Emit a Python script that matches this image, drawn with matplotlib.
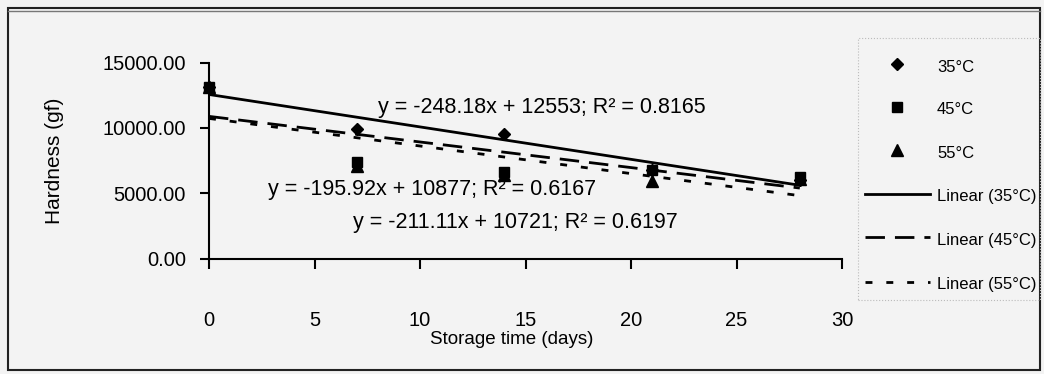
import matplotlib
matplotlib.use("Agg")
import matplotlib.pyplot as plt
from matplotlib.lines import Line2D
from matplotlib.patches import Rectangle
import numpy as np

plt.rcParams['font.family'] = ['Liberation Sans', 'DejaVu Sans']

# ---- data ----
days = [0, 7, 14, 21, 28]
hard_35 = [13100, 9900, 9500, 6800, 6000]
hard_45 = [13100, 7400, 6600, 6800, 6200]
hard_55 = [13100, 7100, 6400, 5900, 6100]
series_labels = ["35°C", "45°C", "55°C"]
# trendline coefficients (slope, intercept, R^2)
fit_35 = (-248.18, 12553, 0.8165)
fit_45 = (-195.92, 10877, 0.6167)
fit_55 = (-211.11, 10721, 0.6197)
xticks = [0, 5, 10, 15, 20, 25, 30]
yticks = [0, 5000, 10000, 15000]

W, H = 1044, 374
fig = plt.figure(figsize=(W / 100, H / 100), dpi=100)
fig.patch.set_facecolor('#f3f3f3')

def fx(px):
    return px / W

def fy(py):
    return 1 - py / H

# outer frame
fig.patches.append(Rectangle((fx(8), fy(370)), fx(1032), (370 - 8) / H, transform=fig.transFigure,
                             fill=False, edgecolor='#222222', linewidth=1.5))
fig.add_artist(Line2D([fx(8), fx(1040)], [fy(11), fy(11)], transform=fig.transFigure,
                      color='#777777', linewidth=1.0))

ax = fig.add_axes([fx(209), fy(258.5), (842 - 209) / W, (258.5 - 62.5) / H])
ax.set_facecolor('none')

DASH45 = (0, (7, 3.6))
DASH55 = (0, (2.5, 5))
mk = dict(linestyle='none', color='black', clip_on=False)
ax.plot(days, hard_55, marker='^', markersize=8, zorder=4, **mk)
ax.plot(days, hard_35, marker='D', markersize=6.5, zorder=5, **mk)
ax.plot(days, hard_45, marker='s', markersize=7, zorder=6, **mk)

xf = np.array([days[0], days[-1]])
ax.plot(xf, fit_35[0] * xf + fit_35[1], color='black', lw=2.0, linestyle='-')
ax.plot(xf, fit_45[0] * xf + fit_45[1], color='black', lw=2.0, linestyle=DASH45)
ax.plot(xf, fit_55[0] * xf + fit_55[1], color='black', lw=2.0, linestyle=DASH55)

ax.set_xlim(0, 30)
ax.set_ylim(0, 15000)
ax.set_xticks(xticks)
ax.set_yticks(yticks)
ax.set_yticklabels([f"{v:.2f}" for v in yticks])
for s in ['top', 'right']:
    ax.spines[s].set_visible(False)
for s in ['left', 'bottom']:
    ax.spines[s].set_linewidth(1.5)
ax.tick_params(axis='x', direction='out', length=7, width=1.5, pad=31, labelsize=14.5)
ax.tick_params(axis='y', direction='out', length=6.5, width=1.5, pad=10, labelsize=14.5)

fig.text(fx(55), fy(161), "Hardness (gf)", rotation=90, ha='center', va='center', fontsize=15)
fig.text(fx(512), fy(339), "Storage time (days)", ha='center', va='center', fontsize=13.5)

def eq(f):
    return f"y = {f[0]:.2f}x + {f[1]}; R² = {f[2]:.4f}"

fig.text(fx(378), fy(107), eq(fit_35), ha='left', va='center', fontsize=15.5)
fig.text(fx(268), fy(189), eq(fit_45), ha='left', va='center', fontsize=15.5)
fig.text(fx(353), fy(222), eq(fit_55), ha='left', va='center', fontsize=15.5)

# legend (drawn manually to match the reference layout)
fig.patches.append(Rectangle((fx(858), fy(300)), fx(182), (300 - 38) / H, transform=fig.transFigure,
                             fill=False, edgecolor='#bbbbbb', linewidth=0.8, linestyle=':'))
labels = series_labels + [f"Linear ({s})" for s in series_labels]
rows = [67, 110, 153, 197, 240, 285]
markers = [('D', 6.5), ('s', 7), ('^', 8)]
for i, (lab, ry) in enumerate(zip(labels, rows)):
    if i < 3:
        m, ms = markers[i]
        fig.add_artist(Line2D([fx(897)], [fy(ry - 3)], transform=fig.transFigure, linestyle='none',
                              marker=m, markersize=ms, color='black'))
    else:
        ls = ['-', DASH45, DASH55][i - 3]
        fig.add_artist(Line2D([fx(865), fx(930)], [fy(ry - 3), fy(ry - 3)], transform=fig.transFigure,
                              color='black', lw=2.0, linestyle=ls))
    fig.text(fx(937), fy(ry), lab, ha='left', va='center', fontsize=12)

fig.savefig("out.png", dpi=100, facecolor=fig.get_facecolor())
